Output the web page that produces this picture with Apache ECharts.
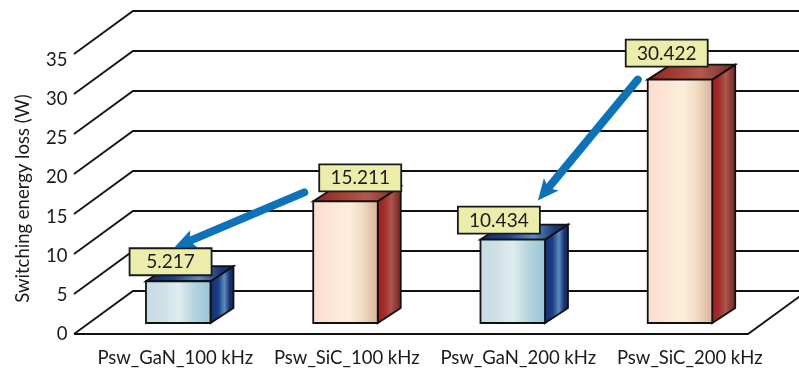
<!DOCTYPE html>
<html>
<head>
<meta charset="utf-8">
<style>html,body{margin:0;padding:0;background:#fff}#c{width:799px;height:369px}</style>
<script src="https://cdn.jsdelivr.net/npm/echarts@6/dist/echarts.min.js"></script>
</head>
<body>
<div id="c"></div>
<script>
// Switching loss per device and frequency
const categories = ['Psw_GaN_100 kHz', 'Psw_SiC_100 kHz', 'Psw_GaN_200 kHz', 'Psw_SiC_200 kHz'];
const values = [5.217, 15.211, 10.434, 30.422];
const valueLabels = ['5.217', '15.211', '10.434', '30.422'];
const yTicks = [0, 5, 10, 15, 20, 25, 30, 35];
const bodyKinds = ['gan', 'sic', 'gan', 'sic'];
// Arrows point from one device's callout to the matching one at the same frequency
const arrowLinks = [[1, 0], [3, 2]];

// Oblique-projection geometry (px)
const WALL_DX = 59, WALL_DY = 43;        // floor depth
const BAR_SHIFT_Y = 11;                  // bars stand inside the floor
const BAR_W = 64.5, BAR_DX = 23, BAR_DY = 15;
const BOX_W = 82, BOX_H = 27;
const boxShift = [[-16.4, -6], [6, -10], [-22.6, -6], [-22, -13]];
const arrowEnds = [
  { from: [-15, 1], to: [45, -1] },
  { from: [12, 13], to: [80, -6] }
];

const h = (stops) => ({
  type: 'linear', x: 0, y: 0, x2: 1, y2: 0,
  colorStops: stops.map(([offset, color]) => ({ offset, color }))
});
const fills = {
  gan: {
    front: h([[0, '#c6dbe3'], [0.25, '#cde0e6'], [0.5, '#e0ecee'], [0.75, '#b4d3de'], [1, '#98c3d5']]),
    side: h([[0, '#14296e'], [0.35, '#1c3f86'], [0.6, '#5a8cbc'], [0.8, '#1c3576'], [1, '#101c58']]),
    top: h([[0, '#15296c'], [0.3, '#1c3f86'], [0.6, '#5a8cc0'], [0.85, '#1c3576'], [1, '#14256a']])
  },
  sic: {
    front: h([[0, '#fcdccf'], [0.55, '#fdeedb'], [0.75, '#f1dcc4'], [1, '#d9b096']]),
    side: h([[0, '#a01f1c'], [0.3, '#a42c28'], [0.58, '#ad554c'], [0.8, '#8a3a32'], [1, '#6b2620']]),
    top: h([[0, '#8a221c'], [0.6, '#b4584e'], [1, '#6e2a22']])
  }
};
const LINE = '#111';

function renderWalls(params, api) {
  const v = api.value(0);
  const front = api.coord([0, v]);
  const band = api.size([1, 0])[0];
  const xFront = front[0] - band / 2 - 20.6;
  const yFront = front[1];
  const pts = [[xFront, yFront], [xFront + WALL_DX, yFront - WALL_DY], [api.getWidth(), yFront - WALL_DY]];
  const children = [{
    type: 'polyline', shape: { points: pts },
    style: { stroke: LINE, lineWidth: 1.8, fill: null }
  }];
  if (v === 0) {
    const xEnd = xFront + 674;
    children.push({
      type: 'polyline',
      shape: { points: [[xFront, yFront], [xEnd, yFront], [xEnd + WALL_DX, yFront - WALL_DY]] },
      style: { stroke: LINE, lineWidth: 1.8, fill: null }
    });
  }
  return { type: 'group', children };
}

function renderBar(params, api) {
  const i = api.value(0);
  const top = api.coord([i, api.value(1)]);
  const base = api.coord([i, 0]);
  const x0 = top[0] - BAR_W / 2, x1 = x0 + BAR_W;
  const yT = top[1] - BAR_SHIFT_Y, yB = base[1] - BAR_SHIFT_Y;
  const f = fills[bodyKinds[i]];
  const edge = { stroke: LINE, lineWidth: 1.8, lineJoin: 'miter' };
  const poly = (points, fill) => ({ type: 'polygon', shape: { points }, style: Object.assign({ fill }, edge) });
  return {
    type: 'group',
    children: [
      poly([[x1, yT], [x1 + BAR_DX, yT - BAR_DY], [x1 + BAR_DX, yB - BAR_DY], [x1, yB]], f.side),
      poly([[x0, yT], [x0 + BAR_DX, yT - BAR_DY], [x1 + BAR_DX, yT - BAR_DY], [x1, yT]], f.top),
      poly([[x0, yT], [x1, yT], [x1, yB], [x0, yB]], f.front)
    ]
  };
}

// Callout box corner for a bar, in pixels
function boxAt(api, i) {
  const p = api.coord([i, values[i]]);
  const x = p[0] - BAR_W / 2 + boxShift[i][0];
  const bottom = p[1] - BAR_SHIFT_Y + boxShift[i][1];
  return { x, y: bottom - BOX_H, bottom };
}

function renderCallout(params, api) {
  const i = api.value(0);
  const b = boxAt(api, i);
  return {
    type: 'group',
    children: [
      { type: 'rect', shape: { x: b.x, y: b.y, width: BOX_W, height: BOX_H },
        style: { fill: '#ecedaa', stroke: '#1a1a1a', lineWidth: 1.8 } },
      { type: 'text', x: b.x + BOX_W / 2, y: b.y + BOX_H / 2 + 0.5,
        style: { text: valueLabels[i], fill: '#1a1a1a', font: '19px Lato', align: 'center', verticalAlign: 'middle' } }
    ]
  };
}

function renderArrow(params, api) {
  const k = api.value(0);
  const [src, dst] = arrowLinks[k];
  const a = boxAt(api, src), b = boxAt(api, dst);
  const from = [a.x + arrowEnds[k].from[0], a.bottom + arrowEnds[k].from[1]];
  const tip = [b.x + arrowEnds[k].to[0], b.y + arrowEnds[k].to[1]];
  const dx = from[0] - tip[0], dy = from[1] - tip[1];
  const len = Math.hypot(dx, dy);
  const ux = dx / len, uy = dy / len, nx = -uy, ny = ux;
  const headLen = 21, headHalf = 9.5, shaftW = 8;
  const neck = [tip[0] + ux * headLen * 0.78, tip[1] + uy * headLen * 0.78];
  const barbA = [tip[0] + ux * headLen + nx * headHalf, tip[1] + uy * headLen + ny * headHalf];
  const barbB = [tip[0] + ux * headLen - nx * headHalf, tip[1] + uy * headLen - ny * headHalf];
  return {
    type: 'group',
    children: [
      { type: 'line', shape: { x1: from[0], y1: from[1], x2: neck[0], y2: neck[1] },
        style: { stroke: '#0e72b8', lineWidth: shaftW, lineCap: 'round' } },
      { type: 'polygon', shape: { points: [tip, barbA, neck, barbB] }, style: { fill: '#0e72b8' } }
    ]
  };
}

const chart = echarts.init(document.getElementById('c'), null, { renderer: 'canvas' });
const labelFont = { fontFamily: 'Lato', color: '#1a1a1a' };
chart.setOption({
  animation: false,
  backgroundColor: '#fff',
  grid: [
    { left: 94.6, width: 669, top: 54, height: 280 },
    { left: 89.5, width: 686, top: 60, height: 274 }
  ],
  xAxis: [
    { type: 'category', gridIndex: 0, data: categories, show: false },
    {
      type: 'category', gridIndex: 1, data: categories,
      axisLine: { show: false }, axisTick: { show: false },
      axisLabel: Object.assign({ fontSize: 18.5, margin: 15, interval: 0 }, labelFont)
    }
  ],
  yAxis: [
    { type: 'value', gridIndex: 0, min: 0, max: 35, interval: 5, show: false },
    {
      type: 'value', gridIndex: 1, min: 0, max: 35, interval: 5,
      axisLine: { show: false }, axisTick: { show: false }, splitLine: { show: false },
      axisLabel: Object.assign({ fontSize: 18.5, margin: 22 }, labelFont),
      name: 'Switching energy loss (W)', nameLocation: 'middle', nameGap: 57,
      nameTextStyle: Object.assign({ fontSize: 18.5, padding: [0, 3, 0, 0] }, labelFont)
    }
  ],
  series: [
    { type: 'custom', xAxisIndex: 0, yAxisIndex: 0, data: yTicks.map(v => [v]), renderItem: renderWalls, clip: false, silent: true, z: 1, encode: { y: 0 } },
    { type: 'custom', xAxisIndex: 0, yAxisIndex: 0, data: values.map((v, i) => [i, v]), renderItem: renderBar, clip: false, silent: true, z: 2, encode: { x: 0, y: 1 } },
    { type: 'custom', xAxisIndex: 0, yAxisIndex: 0, data: arrowLinks.map((_, k) => [k]), renderItem: renderArrow, clip: false, silent: true, z: 3 },
    { type: 'custom', xAxisIndex: 0, yAxisIndex: 0, data: values.map((v, i) => [i, v]), renderItem: renderCallout, clip: false, silent: true, z: 4, encode: { x: 0, y: 1 } }
  ]
});
</script>
</body>
</html>
